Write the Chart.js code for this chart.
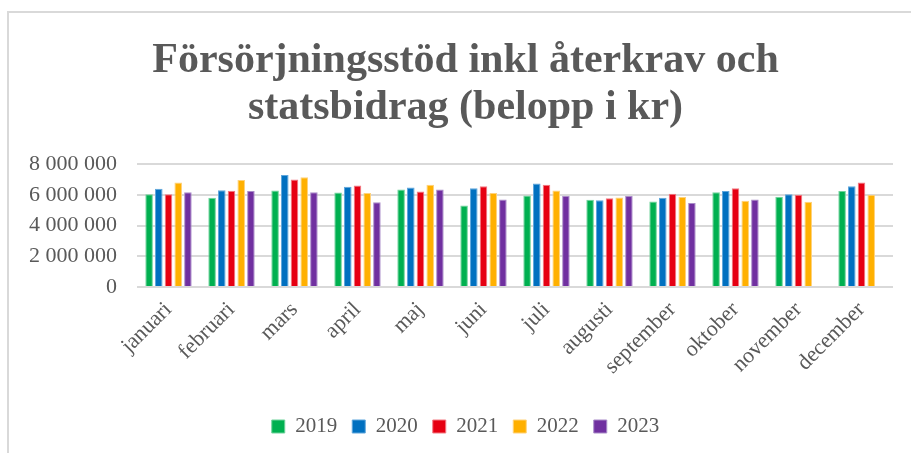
<!DOCTYPE html>
<html>
<head>
<meta charset="utf-8">
<script src="https://cdn.jsdelivr.net/npm/chart.js@4"></script>
<style>
  html,body{margin:0;padding:0;background:#fff;}
  #wrap{position:relative;width:911px;height:453px;overflow:hidden;}
  #frame{position:absolute;left:7px;top:11px;width:1000px;height:600px;border-left:2px solid #d9d9d9;border-top:2px solid #d9d9d9;}
  #myChart{position:absolute;left:0;top:0;}
</style>
</head>
<body>
<div id="wrap">
  <div id="frame"></div>
  <canvas id="myChart" width="911" height="453"></canvas>
</div>
<script>
const months=['januari','februari','mars','april','maj','juni','juli','augusti','september','oktober','november','december'];
const years=['2019','2020','2021','2022','2023'];
const v2019=[6040000,5810000,6280000,6150000,6350000,5310000,5960000,5680000,5570000,6170000,5870000,6240000];
const v2020=[6390000,6300000,7290000,6520000,6480000,6430000,6730000,5640000,5810000,6240000,6040000,6560000];
const v2021=[6030000,6260000,6990000,6610000,6220000,6560000,6650000,5770000,6070000,6430000,6000000,6800000];
const v2022=[6800000,6970000,7140000,6110000,6650000,6110000,6280000,5830000,5850000,5610000,5550000,6000000];
const v2023=[6170000,6240000,6170000,5510000,6350000,5700000,5940000,5920000,5460000,5700000,null,null];
const yTickLabels=['0','2 000 000','4 000 000','6 000 000','8 000 000'];
const colors=['#00b050','#0070c0','#e60012','#ffb000','#7030a0'];
const borders=['#6fd39b','#5fa6dc','#f27a83','#ffd27a','#a98bc8'];

window.addEventListener('load',()=>{
    const ctx=document.getElementById('myChart');
    const series=[v2019,v2020,v2021,v2022,v2023];
    const grey='#595959';
    const serif="'Liberation Serif', 'Times New Roman', serif";

    new Chart(ctx,{
      type:'bar',
      data:{
        labels:months,
        datasets:series.map((d,i)=>({
          label:years[i],
          data:d,
          backgroundColor:colors[i],
          borderColor:borders[i],
          borderWidth:1,
          categoryPercentage:0.77,
          barPercentage:0.78
        }))
      },
      options:{
        responsive:false,
        animation:false,
        devicePixelRatio:1,
        layout:{padding:{left:20,right:0,top:0,bottom:6}},
        plugins:{
          title:{
            display:true,
            text:['Försörjningsstöd inkl återkrav och','statsbidrag (belopp i kr)'],
            color:grey,
            font:{family:serif,size:42,weight:'bold',lineHeight:1.12},
            padding:{top:38,bottom:32}
          },
          legend:{
            position:'bottom',
            labels:{
              color:grey,
              font:{family:serif,size:21},
              boxWidth:13,
              boxHeight:13,
              padding:15
            }
          },
          tooltip:{enabled:false}
        },
        scales:{
          x:{
            grid:{display:false},
            border:{display:false},
            ticks:{
              color:grey,
              font:{family:serif,size:22},
              minRotation:45,
              maxRotation:45,
              padding:2
            },
            afterFit:(scale)=>{scale.height=114;}
          },
          y:{
            min:0,
            max:8000000,
            border:{display:false},
            grid:{color:'#d9d9d9',lineWidth:2,drawTicks:false},
            ticks:{
              stepSize:2000000,
              color:grey,
              font:{family:serif,size:22},
              padding:20,
              callback:(v)=>yTickLabels[Math.round(v/2000000)]
            },
            afterFit:(scale)=>{scale.width=117;}
          },
          // empty spacer on the right so the plot ends at x=893
          yRight:{
            position:'right',
            grid:{display:false},
            border:{display:false},
            ticks:{display:false},
            afterFit:(scale)=>{scale.width=18;}
          }
        }
      }
    });
});
</script>
</body>
</html>
